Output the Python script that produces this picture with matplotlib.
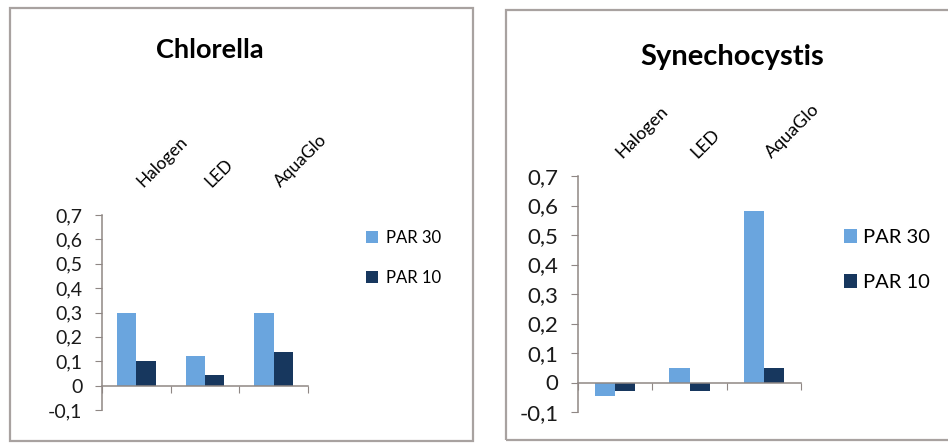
import numpy as np
import matplotlib
matplotlib.use("Agg")
import matplotlib.pyplot as plt
from matplotlib.patches import Rectangle
from matplotlib.ticker import FuncFormatter, FixedLocator

plt.rcParams['font.family'] = ['Lato', 'DejaVu Sans']

# lamp types and growth per light level
categories = ['Halogen', 'LED', 'AquaGlo']
series_names = ['PAR 30', 'PAR 10']
chlorella_par30 = [0.30, 0.12, 0.30]
chlorella_par10 = [0.10, 0.045, 0.14]
synecho_par30 = [-0.045, 0.05, 0.58]
synecho_par10 = [-0.03, -0.03, 0.05]
y_ticks = [-0.1, 0, 0.1, 0.2, 0.3, 0.4, 0.5, 0.6, 0.7]

light_blue = '#6aa5de'
navy = '#17375e'
axis_grey = '#8f8784'
frame_grey = '#a8a2a0'


def comma_fmt(v, pos):
    if abs(v) < 1e-9:
        return '0'
    return ('%.1f' % v).replace('.', ',')


def draw_panel(ax, par30, par10, width, fs_tick, fs_cat, cat_pad):
    x = np.arange(len(categories))
    b1 = ax.bar(x - width / 2, par30, width, color=light_blue, label=series_names[0])
    b2 = ax.bar(x + width / 2, par10, width, color=navy, label=series_names[1])
    ax.set_xlim(-0.5, len(categories) - 0.5)
    ax.set_ylim(-0.1, 0.7)

    for s in ['top', 'right']:
        ax.spines[s].set_visible(False)
    ax.spines['bottom'].set_position(('data', 0))
    for s in ['bottom', 'left']:
        ax.spines[s].set_color(axis_grey)
        ax.spines[s].set_linewidth(1.1)

    ax.yaxis.set_major_locator(FixedLocator(y_ticks))
    ax.yaxis.set_major_formatter(FuncFormatter(comma_fmt))
    ax.tick_params(axis='y', direction='out', length=5, color=axis_grey,
                   labelsize=fs_tick, pad=9, labelcolor='#1a1a1a')

    # tick marks between categories on the zero line
    ax.xaxis.set_major_locator(FixedLocator(np.arange(len(categories) + 1) - 0.5))
    ax.tick_params(axis='x', direction='out', length=5, color=axis_grey,
                   labelbottom=False)

    # category names sit above the plot, slanted
    top = ax.secondary_xaxis('top')
    top.set_xticks(x + 0.13)
    top.set_xticklabels(categories, rotation=45, ha='left', va='bottom',
                        rotation_mode='anchor', fontsize=fs_cat)
    top.tick_params(length=0, pad=cat_pad)
    top.spines['top'].set_visible(False)
    return b1, b2


fig = plt.figure(figsize=(9.48, 4.43), dpi=100)
W, H = 948, 443


def fig_rect(x0, y0, x1, y1):
    return [x0 / W, 1 - y1 / H, (x1 - x0) / W, (y1 - y0) / H]


# panel frames
fig.patches.append(Rectangle((10 / W, 1 - 441 / H), 463 / W, 433 / H,
                             transform=fig.transFigure, fill=False,
                             edgecolor=frame_grey, linewidth=1.6))
fig.patches.append(Rectangle((506 / W, 1 - 440 / H), 460 / W, 430 / H,
                             transform=fig.transFigure, fill=False,
                             edgecolor=frame_grey, linewidth=1.6))

ax1 = fig.add_axes(fig_rect(102, 215, 308, 410))
h1 = draw_panel(ax1, chlorella_par30, chlorella_par10, 0.28, 14, 12.5, 18)
fig.text(210 / W, 1 - 50 / H, 'Chlorella', ha='center', va='center',
         fontsize=19.5, fontweight='bold')
fig.legend(h1, series_names, loc='center left',
           bbox_to_anchor=(366 / W, 1 - 258 / H), frameon=False,
           fontsize=12, borderpad=0, borderaxespad=0, handlelength=0.72,
           handleheight=0.72, handletextpad=0.5, labelspacing=1.45)

ax2 = fig.add_axes(fig_rect(578, 176, 801, 412))
h2 = draw_panel(ax2, synecho_par30, synecho_par10, 0.27, 16, 13, 11)
fig.text(732 / W, 1 - 57 / H, 'Synechocystis', ha='center', va='center',
         fontsize=21, fontweight='bold')
fig.legend(h2, series_names, loc='center left',
           bbox_to_anchor=(844 / W, 1 - 260 / H), frameon=False,
           fontsize=14.5, borderpad=0, borderaxespad=0, handlelength=0.65,
           handleheight=0.65, handletextpad=0.3, labelspacing=1.4)

fig.savefig('out.png', dpi=100)
